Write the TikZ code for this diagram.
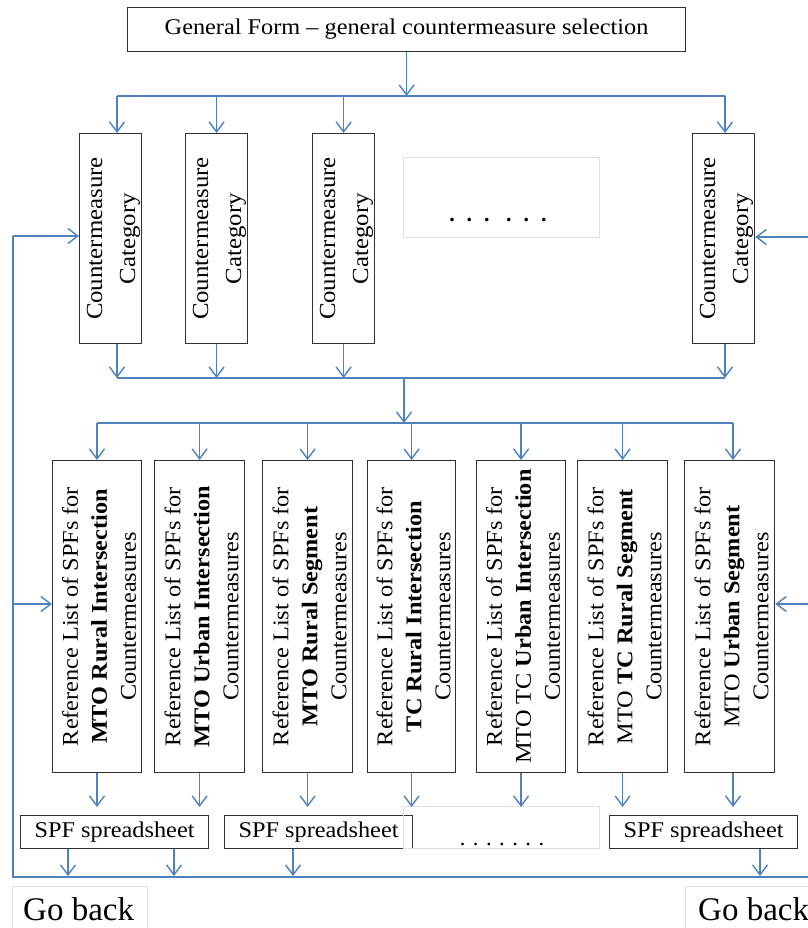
\documentclass[tikz,border=0pt]{standalone}
\usepackage{fontspec}
\setmainfont{Liberation Serif}
\newfontfamily\rf[FakeStretch=1.08,Ligatures=TeX]{Liberation Serif}
\usetikzlibrary{arrows.meta,calc}
\definecolor{flow}{HTML}{4F81BD}
\definecolor{ghost}{HTML}{E0E0E0}
\definecolor{edge}{HTML}{303030}
\begin{document}
\begin{tikzpicture}[x=1pt,y=-1pt,
  flowline/.style={draw=flow,line width=1.6pt},
  arr/.style={flowline,-{Straight Barb[length=10pt,width=15pt,line width=1.4pt]}},
  box/.style 2 args={draw=edge,line width=1.2pt,fill=white,inner sep=0pt,anchor=north west,
    minimum width=#1pt,minimum height=#2pt},
  ghostbox/.style 2 args={draw=ghost,line width=1pt,inner sep=0pt,anchor=north west,
    minimum width=#1pt,minimum height=#2pt},
  lbl/.style={font=\rf\fontsize{22.5}{28.5}\selectfont,inner sep=0pt},
  cattext/.style={rotate=90,align=center,inner sep=0pt,font=\rf\fontsize{23}{33}\selectfont},
  reftext/.style={rotate=90,align=center,inner sep=0pt,font=\rf\fontsize{22.5}{29}\selectfont},
  gotext/.style={font=\fontsize{33}{36}\selectfont,inner sep=0pt,anchor=base west}
]
\useasboundingbox (0,0) rectangle (807,928);

% top box
\node[box={558}{44}] (top) at (127,7) {};
\node[lbl] (toptext) at (top.center) {General Form \textendash{} general countermeasure selection};

% category boxes
\node[box={62}{210}] (c1) at (79,133) {};
\node[box={62}{210}] (c2) at (185,133) {};
\node[box={62}{210}] (c3) at (312,133) {};
\node[box={62}{210}] (c4) at (692,133) {};
\node[cattext] (c1t) at ([xshift=3pt]c1.center) {Countermeasure\\Category};
\node[cattext] (c2t) at ([xshift=3pt]c2.center) {Countermeasure\\Category};
\node[cattext] (c3t) at ([xshift=3pt]c3.center) {Countermeasure\\Category};
\node[cattext] (c4t) at ([xshift=3pt]c4.center) {Countermeasure\\Category};

% top dots box
\node[ghostbox={196}{80}] (d1) at (403,157) {};
\node[font=\bfseries\fontsize{22}{24}\selectfont,inner sep=0pt,anchor=base] (d1t) at (498,221)
  {.\hspace{12pt}.\hspace{12pt}.\hspace{16.5pt}.\hspace{12pt}.\hspace{12pt}.};

% reference list boxes
\node[box={89}{312}] (r1) at (52,460) {};
\node[box={90}{312}] (r2) at (154,460) {};
\node[box={90}{312}] (r3) at (262,460) {};
\node[box={88}{312}] (r4) at (367,460) {};
\node[box={89}{312}] (r5) at (476,460) {};
\node[box={90}{312}] (r6) at (577,460) {};
\node[box={90}{312}] (r7) at (684,460) {};
\node[reftext] (r1t) at ([xshift=2pt]r1.center) {Reference List of SPFs for\\\textbf{MTO Rural Intersection}\\Countermeasures};
\node[reftext] (r2t) at ([xshift=2pt]r2.center) {Reference List of SPFs for\\\textbf{MTO Urban Intersection}\\Countermeasures};
\node[reftext] (r3t) at ([xshift=2pt]r3.center) {Reference List of SPFs for\\\textbf{MTO Rural Segment}\\Countermeasures};
\node[reftext] (r4t) at ([xshift=2pt]r4.center) {Reference List of SPFs for\\\textbf{TC Rural Intersection}\\Countermeasures};
\node[reftext] (r5t) at ([xshift=2pt]r5.center) {Reference List of SPFs for\\MTO TC \textbf{Urban Intersection}\\Countermeasures};
\node[reftext] (r6t) at ([xshift=2pt]r6.center) {Reference List of SPFs for\\MTO \textbf{TC Rural Segment}\\Countermeasures};
\node[reftext] (r7t) at ([xshift=2pt]r7.center) {Reference List of SPFs for\\MTO \textbf{Urban Segment}\\Countermeasures};

% SPF spreadsheet boxes
\node[box={188}{33}] (s1) at (20,815) {};
\node[box={188}{33}] (s2) at (224,815) {};
\node[ghostbox={196}{42}] (d2) at (403,806) {};
\node[box={188}{33}] (s3) at (609,815) {};
\node[lbl] (s1t) at (s1.center) {SPF spreadsheet};
\node[lbl] (s2t) at (s2.center) {SPF spreadsheet};
\node[lbl] (s3t) at (s3.center) {SPF spreadsheet};
\node[font=\fontsize{22.5}{24}\selectfont,inner sep=0pt,anchor=base] (d2t) at (502,845) {. . . . . . .};

% go back boxes
\node[ghostbox={135}{60}] (g1) at (12,886) {};
\node[ghostbox={135}{60}] (g2) at (685,886) {};
\node[gotext] (g1t) at (23,920) {Go back};
\node[gotext] (g2t) at (698,920) {Go back};

% coordinates
\coordinate (b1) at (404,96);
\coordinate (b1L) at (117,96);
\coordinate (b1R) at (725,96);
\coordinate (b2L) at (117,378);
\coordinate (b2R) at (725,378);
\coordinate (b2M) at (404,378);
\coordinate (b3M) at (404,423);
\coordinate (b3L) at (97,423);
\coordinate (b3R) at (733,423);
\coordinate (lv) at (0,807);
\coordinate (bot) at (13,877);
\coordinate (botR) at (808,877);
\coordinate (fb1) at (13,236);
\coordinate (fb2) at (13,604);
\coordinate (fr1) at (808,237);
\coordinate (fr2) at (808,604);
\coordinate (a1) at (68,876);
\coordinate (a2) at (174,876);
\coordinate (a3) at (293,876);
\coordinate (a4) at (760,876);

% top to bus 1
\draw[arr] (top.south) -- (top.south |- b1);
\draw[flowline] (b1L) -- (b1R);
\draw[arr] (b1L) -- (b1L |- c1.north);
\draw[arr] (c2.north |- b1) -- (c2.north);
\draw[arr] (c3.north |- b1) -- (c3.north);
\draw[arr] (b1R) -- (b1R |- c4.north);

% categories to bus 2
\draw[arr] (b2L |- c1.south) -- (b2L);
\draw[arr] (c2.south) -- (c2.south |- b2L);
\draw[arr] (c3.south) -- (c3.south |- b2L);
\draw[arr] (b2R |- c4.south) -- (b2R);
\draw[flowline] (b2L) -- (b2R);
\draw[arr] (b2M) -- (b3M);

% bus 3 to reference lists
\draw[flowline] (b3L) -- (b3R);
\draw[arr] (b3L) -- (b3L |- r1.north);
\draw[arr] (r2.north |- b3L) -- (r2.north);
\draw[arr] (r3.north |- b3L) -- (r3.north);
\draw[arr] (r4.north |- b3L) -- (r4.north);
\draw[arr] (r5.north |- b3L) -- (r5.north);
\draw[arr] (r6.north |- b3L) -- (r6.north);
\draw[arr] (b3R) -- (b3R |- r7.north);

% reference lists down
\draw[arr] (b3L |- r1.south) -- (b3L |- lv);
\draw[arr] (r2.south) -- (r2.south |- lv);
\draw[arr] (r3.south) -- (r3.south |- lv);
\draw[arr] (r4.south) -- (r4.south |- lv);
\draw[arr] (r5.south) -- (r5.south |- lv);
\draw[arr] (r6.south) -- (r6.south |- lv);
\draw[arr] (b3R |- r7.south) -- (b3R |- lv);

% spreadsheets down
\draw[arr] (a1 |- s1.south) -- (a1);
\draw[arr] (a2 |- s1.south) -- (a2);
\draw[arr] (a3 |- s2.south) -- (a3);
\draw[arr] (a4 |- s3.south) -- (a4);

% feedback loops
\draw[flowline] (fb1) -- (bot) -- (botR);
\draw[arr] (fb1) -- (c1.west |- fb1);
\draw[arr] (fb2) -- (r1.west |- fb2);
\draw[arr] (fr1) -- (c4.east |- fr1);
\draw[arr] (fr2) -- (r7.east |- fr2);
\end{tikzpicture}
\end{document}
